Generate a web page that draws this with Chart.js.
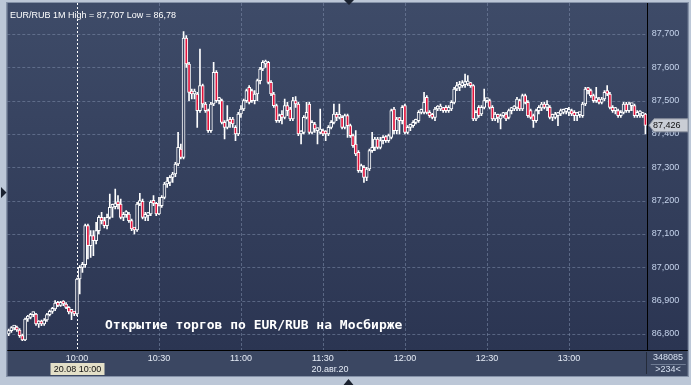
<!DOCTYPE html>
<html>
<head>
<meta charset="utf-8">
<script src="https://cdn.jsdelivr.net/npm/chart.js@4.4.1/dist/chart.umd.min.js"></script>
<style>
  html, body { margin: 0; padding: 0; background: #bcc7d7; }
  canvas { display: block; }
</style>
</head>
<body>
<canvas id="myChart" width="691" height="385"></canvas>
<script>
"use strict";

// EUR/RUB 1M, 20.08.2020, one candle per minute from 09:35
const startTime = '09:35';
const opens = [
  86.800, 86.810, 86.818, 86.820, 86.812, 86.795, 86.782, 86.845, 86.850, 86.858,
  86.860, 86.830, 86.835, 86.830, 86.842, 86.858, 86.868, 86.875, 86.893, 86.886,
  86.892, 86.890, 86.880, 86.866, 86.865, 86.860, 86.965, 87.000, 87.008, 87.125,
  87.065, 87.095, 87.080, 87.110, 87.150, 87.140, 87.125, 87.150, 87.180, 87.182,
  87.190, 87.190, 87.150, 87.158, 87.160, 87.140, 87.115, 87.112, 87.190, 87.198,
  87.150, 87.155, 87.160, 87.195, 87.192, 87.160, 87.185, 87.210, 87.250, 87.255,
  87.270, 87.280, 87.310, 87.355, 87.330, 87.688, 87.610, 87.525, 87.520, 87.520,
  87.470, 87.545, 87.490, 87.470, 87.410, 87.490, 87.585, 87.500, 87.500, 87.435,
  87.420, 87.440, 87.445, 87.420, 87.400, 87.460, 87.475, 87.500, 87.540, 87.530,
  87.500, 87.520, 87.560, 87.595, 87.610, 87.615, 87.555, 87.520, 87.485, 87.440,
  87.455, 87.450, 87.485, 87.475, 87.445, 87.500, 87.490, 87.400, 87.405, 87.450,
  87.490, 87.405, 87.430, 87.410, 87.405, 87.410, 87.405, 87.400, 87.420, 87.435,
  87.455, 87.450, 87.450, 87.420, 87.455, 87.425, 87.395, 87.370, 87.345, 87.290,
  87.300, 87.270, 87.295, 87.350, 87.360, 87.385, 87.360, 87.380, 87.392, 87.380,
  87.390, 87.475, 87.410, 87.445, 87.440, 87.485, 87.405, 87.420, 87.425, 87.435,
  87.440, 87.465, 87.465, 87.510, 87.465, 87.458, 87.450, 87.475, 87.475, 87.478,
  87.480, 87.470, 87.475, 87.495, 87.535, 87.540, 87.545, 87.548, 87.550, 87.550,
  87.545, 87.445, 87.480, 87.460, 87.480, 87.500, 87.500, 87.480, 87.445, 87.455,
  87.445, 87.455, 87.460, 87.450, 87.470, 87.475, 87.480, 87.500, 87.475, 87.515,
  87.495, 87.470, 87.455, 87.440, 87.470, 87.478, 87.490, 87.480, 87.480, 87.450,
  87.450, 87.455, 87.460, 87.465, 87.468, 87.465, 87.470, 87.465, 87.455, 87.458,
  87.455, 87.490, 87.535, 87.530, 87.515, 87.500, 87.505, 87.495, 87.505, 87.530,
  87.520, 87.480, 87.470, 87.470, 87.455, 87.465, 87.490, 87.470, 87.485, 87.485,
  87.455, 87.460, 87.455, 87.460
];
const highs = [
  86.815, 86.822, 86.826, 86.824, 86.816, 86.800, 86.848, 86.856, 86.862, 86.866,
  86.862, 86.840, 86.842, 86.846, 86.862, 86.872, 86.880, 86.900, 86.898, 86.898,
  86.900, 86.894, 86.882, 86.870, 86.868, 86.968, 87.005, 87.015, 87.130, 87.130,
  87.110, 87.110, 87.135, 87.155, 87.165, 87.150, 87.160, 87.220, 87.190, 87.235,
  87.215, 87.205, 87.165, 87.170, 87.165, 87.145, 87.120, 87.195, 87.222, 87.205,
  87.165, 87.165, 87.200, 87.215, 87.195, 87.210, 87.215, 87.255, 87.270, 87.275,
  87.285, 87.315, 87.405, 87.370, 87.707, 87.695, 87.615, 87.535, 87.535, 87.525,
  87.655, 87.550, 87.495, 87.475, 87.495, 87.615, 87.590, 87.510, 87.505, 87.440,
  87.485, 87.450, 87.450, 87.425, 87.465, 87.485, 87.505, 87.535, 87.545, 87.535,
  87.530, 87.565, 87.600, 87.620, 87.622, 87.618, 87.560, 87.525, 87.490, 87.460,
  87.470, 87.505, 87.495, 87.480, 87.510, 87.512, 87.495, 87.410, 87.455, 87.495,
  87.495, 87.440, 87.435, 87.418, 87.475, 87.415, 87.410, 87.425, 87.440, 87.490,
  87.465, 87.490, 87.455, 87.460, 87.460, 87.430, 87.400, 87.410, 87.350, 87.310,
  87.305, 87.300, 87.355, 87.405, 87.390, 87.390, 87.390, 87.395, 87.395, 87.400,
  87.475, 87.480, 87.450, 87.450, 87.485, 87.490, 87.425, 87.430, 87.440, 87.445,
  87.470, 87.475, 87.525, 87.515, 87.470, 87.462, 87.480, 87.485, 87.490, 87.480,
  87.485, 87.485, 87.500, 87.540, 87.555, 87.558, 87.560, 87.580, 87.575, 87.555,
  87.548, 87.470, 87.485, 87.485, 87.535, 87.505, 87.505, 87.485, 87.465, 87.460,
  87.460, 87.465, 87.465, 87.475, 87.480, 87.485, 87.510, 87.505, 87.520, 87.520,
  87.500, 87.475, 87.460, 87.475, 87.485, 87.495, 87.495, 87.500, 87.485, 87.460,
  87.465, 87.465, 87.475, 87.475, 87.475, 87.480, 87.475, 87.470, 87.465, 87.465,
  87.495, 87.540, 87.540, 87.535, 87.520, 87.540, 87.510, 87.510, 87.530, 87.545,
  87.525, 87.485, 87.480, 87.475, 87.470, 87.495, 87.495, 87.495, 87.490, 87.490,
  87.470, 87.470, 87.465, 87.462
];
const lows = [
  86.795, 86.805, 86.812, 86.808, 86.790, 86.780, 86.780, 86.838, 86.845, 86.852,
  86.826, 86.820, 86.825, 86.826, 86.838, 86.854, 86.862, 86.870, 86.882, 86.883,
  86.885, 86.876, 86.860, 86.843, 86.855, 86.855, 86.920, 86.985, 87.000, 87.025,
  87.030, 87.035, 87.070, 87.100, 87.130, 87.118, 87.115, 87.145, 87.150, 87.175,
  87.175, 87.145, 87.140, 87.150, 87.135, 87.110, 87.100, 87.108, 87.185, 87.145,
  87.140, 87.140, 87.155, 87.185, 87.155, 87.158, 87.180, 87.205, 87.240, 87.245,
  87.255, 87.272, 87.305, 87.325, 87.325, 87.600, 87.500, 87.505, 87.505, 87.420,
  87.465, 87.480, 87.465, 87.405, 87.405, 87.485, 87.495, 87.490, 87.430, 87.385,
  87.415, 87.420, 87.420, 87.380, 87.395, 87.450, 87.470, 87.495, 87.490, 87.495,
  87.490, 87.500, 87.550, 87.590, 87.600, 87.550, 87.515, 87.480, 87.435, 87.435,
  87.430, 87.445, 87.455, 87.440, 87.440, 87.480, 87.395, 87.370, 87.400, 87.445,
  87.400, 87.400, 87.405, 87.370, 87.400, 87.395, 87.380, 87.395, 87.415, 87.430,
  87.440, 87.445, 87.415, 87.415, 87.390, 87.390, 87.360, 87.335, 87.285, 87.285,
  87.255, 87.260, 87.290, 87.345, 87.350, 87.355, 87.355, 87.370, 87.375, 87.375,
  87.385, 87.400, 87.400, 87.400, 87.430, 87.400, 87.400, 87.410, 87.420, 87.430,
  87.435, 87.460, 87.460, 87.460, 87.450, 87.445, 87.440, 87.470, 87.470, 87.465,
  87.465, 87.465, 87.470, 87.490, 87.530, 87.530, 87.540, 87.540, 87.545, 87.540,
  87.440, 87.440, 87.450, 87.455, 87.475, 87.495, 87.475, 87.440, 87.440, 87.435,
  87.415, 87.450, 87.440, 87.445, 87.460, 87.470, 87.470, 87.470, 87.470, 87.490,
  87.450, 87.445, 87.420, 87.435, 87.460, 87.470, 87.475, 87.470, 87.445, 87.440,
  87.445, 87.425, 87.455, 87.460, 87.460, 87.455, 87.455, 87.440, 87.440, 87.450,
  87.450, 87.485, 87.520, 87.510, 87.495, 87.495, 87.490, 87.490, 87.500, 87.515,
  87.475, 87.465, 87.460, 87.450, 87.450, 87.460, 87.465, 87.465, 87.470, 87.450,
  87.450, 87.450, 87.450, 87.400
];
const closes = [
  86.810, 86.818, 86.820, 86.812, 86.795, 86.782, 86.845, 86.850, 86.858, 86.860,
  86.830, 86.835, 86.830, 86.842, 86.858, 86.868, 86.875, 86.893, 86.886, 86.892,
  86.890, 86.880, 86.866, 86.865, 86.860, 86.965, 87.000, 87.008, 87.125, 87.065,
  87.095, 87.080, 87.110, 87.150, 87.140, 87.125, 87.150, 87.180, 87.182, 87.190,
  87.188, 87.150, 87.158, 87.160, 87.140, 87.115, 87.112, 87.190, 87.200, 87.150,
  87.155, 87.160, 87.195, 87.192, 87.160, 87.185, 87.210, 87.250, 87.255, 87.270,
  87.280, 87.310, 87.360, 87.330, 87.688, 87.610, 87.525, 87.520, 87.525, 87.470,
  87.545, 87.490, 87.470, 87.410, 87.490, 87.585, 87.500, 87.505, 87.435, 87.420,
  87.440, 87.435, 87.430, 87.400, 87.460, 87.475, 87.500, 87.530, 87.495, 87.500,
  87.520, 87.560, 87.595, 87.615, 87.612, 87.555, 87.520, 87.485, 87.440, 87.455,
  87.450, 87.485, 87.470, 87.445, 87.500, 87.490, 87.400, 87.405, 87.450, 87.465,
  87.405, 87.435, 87.415, 87.412, 87.415, 87.400, 87.400, 87.420, 87.435, 87.460,
  87.450, 87.455, 87.420, 87.455, 87.425, 87.395, 87.365, 87.340, 87.290, 87.305,
  87.270, 87.295, 87.350, 87.360, 87.385, 87.360, 87.380, 87.390, 87.380, 87.395,
  87.470, 87.410, 87.445, 87.440, 87.480, 87.405, 87.420, 87.425, 87.435, 87.440,
  87.465, 87.468, 87.495, 87.465, 87.455, 87.450, 87.475, 87.478, 87.480, 87.470,
  87.470, 87.480, 87.495, 87.535, 87.545, 87.545, 87.550, 87.550, 87.552, 87.545,
  87.445, 87.465, 87.455, 87.480, 87.500, 87.501, 87.480, 87.445, 87.460, 87.450,
  87.455, 87.460, 87.445, 87.470, 87.478, 87.480, 87.505, 87.475, 87.515, 87.495,
  87.455, 87.450, 87.440, 87.470, 87.480, 87.490, 87.480, 87.482, 87.450, 87.455,
  87.460, 87.460, 87.470, 87.470, 87.470, 87.470, 87.460, 87.455, 87.460, 87.460,
  87.490, 87.535, 87.530, 87.515, 87.500, 87.505, 87.495, 87.505, 87.525, 87.520,
  87.480, 87.470, 87.475, 87.455, 87.465, 87.490, 87.470, 87.490, 87.485, 87.455,
  87.465, 87.465, 87.460, 87.426
];
const yTicks = [86.8, 86.9, 87.0, 87.1, 87.2, 87.3, 87.4, 87.5, 87.6, 87.7];
const cursorTime = '10:00';

// minute labels
const times = [];
let [hh, mm] = startTime.split(':').map(Number);
for (let i = 0; i < opens.length; i++) {
	times.push(String(hh).padStart(2, '0') + ':' + String(mm).padStart(2, '0'));
	mm++;
	if (mm === 60) { mm = 0; hh++; }
}

const RED = '#e2143c';
const FONT = 'Liberation Sans';

function panelFill(ctx, top, bottom) {
	const g = ctx.createLinearGradient(0, top, 0, bottom);
	g.addColorStop(0, '#3e4b68');
	g.addColorStop(1, '#2b3552');
	return g;
}

function fmt(v) { return v.toFixed(3).replace('.', ','); }

const backdrop = {
	id: 'backdrop',
	beforeDraw(chart) {
		const c = chart.ctx, a = chart.chartArea;
		const xs = chart.scales.x, ys = chart.scales.y;
		c.save();
		c.fillStyle = '#bcc7d7';
		c.fillRect(0, 0, chart.width, chart.height);
		// main + price panel
		c.fillStyle = panelFill(c, 3, a.bottom);
		c.fillRect(a.left, 3, ys.right - a.left, a.bottom - 3);
		// time strip
		c.fillStyle = '#3b4762';
		c.fillRect(a.left, a.bottom, ys.right - a.left, xs.bottom - a.bottom);
		// frame
		c.strokeStyle = '#8592a8';
		c.lineWidth = 1;
		c.strokeRect(Math.round(a.left) - 0.5, 2.5, Math.round(ys.right - a.left) + 1, xs.bottom - 2);
		c.strokeStyle = '#000';
		c.beginPath();
		c.moveTo(Math.round(a.right) + 0.5, 3);
		c.lineTo(Math.round(a.right) + 0.5, a.bottom);
		c.moveTo(a.left, Math.round(a.bottom) + 0.5);
		c.lineTo(ys.right, Math.round(a.bottom) + 0.5);
		c.stroke();
		c.strokeStyle = '#242b3a';
		c.beginPath();
		c.moveTo(Math.round(a.right) - 0.5, a.bottom + 2);
		c.lineTo(Math.round(a.right) - 0.5, xs.bottom - 2);
		c.stroke();
		c.strokeStyle = '#6f7c94';
		c.beginPath();
		c.moveTo(a.right + 4, 364.5);
		c.lineTo(ys.right - 2, 364.5);
		c.stroke();

		// dashed grid
		c.strokeStyle = 'rgba(125,140,170,0.55)';
		c.setLineDash([3, 2]);
		c.beginPath();
		yTicks.forEach(v => {
			const py = Math.round(ys.getPixelForValue(v)) + 0.5;
			c.moveTo(a.left, py);
			c.lineTo(a.right, py);
		});
		times.forEach((t, i) => {
			if (t === cursorTime || !(t.endsWith(':00') || t.endsWith(':30'))) return;
			const px = Math.round(xs.getPixelForValue(i)) + 0.5;
			c.moveTo(px, 3);
			c.lineTo(px, a.bottom);
		});
		c.stroke();

		// cursor line
		const ci = times.indexOf(cursorTime);
		const cx = Math.round(xs.getPixelForValue(ci)) + 0.5;
		c.strokeStyle = '#ffffff';
		c.setLineDash([2, 2]);
		c.beginPath();
		c.moveTo(cx, 3);
		c.lineTo(cx, a.bottom);
		c.stroke();
		c.setLineDash([]);

		c.fillStyle = '#ffffff';
		c.font = '9px "' + FONT + '"';
		c.textBaseline = 'alphabetic';
		c.textAlign = 'left';
		c.fillText('EUR/RUB 1M High = 87,707 Low = 86,78', 10, 18);
		c.restore();
	},
	afterDraw(chart) {
		const c = chart.ctx, a = chart.chartArea;
		const xs = chart.scales.x, ys = chart.scales.y;
		c.save();
		c.font = '9px "' + FONT + '"';
		c.textBaseline = 'middle';

		// date under the axis
		c.fillStyle = '#e6ecf6';
		c.textAlign = 'center';
		c.fillText('20.авг.20', 330, 369.5);

		// cursor time box
		const ci = times.indexOf(cursorTime);
		const cx = Math.round(xs.getPixelForValue(ci)) + 0.5;
		c.fillStyle = '#e4e0c8';
		c.fillRect(cx - 27, 363, 54, 12);
		c.fillStyle = '#111';
		c.fillText('20.08 ' + cursorTime, cx, 369.5);

		// last price tag
		const last = closes[closes.length - 1];
		const py = ys.getPixelForValue(last);
		const tx = Math.round(a.right) + 2;
		c.beginPath();
		c.moveTo(tx, py);
		c.lineTo(tx + 5, py - 6.5);
		c.lineTo(688, py - 6.5);
		c.lineTo(688, py + 6.5);
		c.lineTo(tx + 5, py + 6.5);
		c.closePath();
		c.fillStyle = '#c9cdd5';
		c.fill();
		c.strokeStyle = '#8c93a0';
		c.lineWidth = 1;
		c.stroke();
		c.fillStyle = '#111';
		c.textAlign = 'left';
		c.fillText(fmt(last), tx + 4, py + 0.5);

		// bottom right info
		c.fillStyle = '#d6e0f0';
		c.textAlign = 'center';
		c.fillText('348085', 668, 357.5);
		c.fillText('>234<', 668, 370);

		// annotation
		c.fillStyle = '#ffffff';
		c.textAlign = 'left';
		c.textBaseline = 'alphabetic';
		c.font = 'bold 13px "DejaVu Sans Mono"';
		c.fillText('Открытие торгов по EUR/RUB на Мосбирже', 105, 329);

		// scroll arrows
		c.fillStyle = '#1b2230';
		c.beginPath();
		c.moveTo(1, 187); c.lineTo(6.5, 192.5); c.lineTo(1, 198); c.closePath();
		c.moveTo(344, 0); c.lineTo(354, 0); c.lineTo(349, 5); c.closePath();
		c.moveTo(343.5, 385); c.lineTo(353.5, 385); c.lineTo(348.5, 379); c.closePath();
		c.fill();
		c.restore();
	}
};

const config = {
	type: 'bar',
	data: {
		labels: times,
		datasets: [
			{
				label: 'body',
				data: opens.map((o, i) => [o, closes[i]]),
				order: 0,
				barThickness: 3,
				minBarLength: 3,
				borderWidth: 1,
				borderSkipped: false,
				borderColor: '#ffffff',
				backgroundColor: (ctx) => {
					const i = ctx.dataIndex;
					if (i === undefined) return RED;
					if (closes[i] < opens[i]) return RED;
					return panelFill(ctx.chart.ctx, 3, ctx.chart.chartArea ? ctx.chart.chartArea.bottom : 350);
				}
			},
			{
				label: 'wick',
				data: lows.map((l, i) => [l, highs[i]]),
				order: 1,
				barThickness: 1,
				borderWidth: 0,
				backgroundColor: '#ffffff'
			}
		]
	},
	options: {
		responsive: false,
		animation: false,
		layout: { padding: { left: 7.3, right: 3.2, top: 4, bottom: 9 } },
		datasets: { bar: { grouped: false } },
		plugins: {
			legend: { display: false },
			tooltip: { enabled: false }
		},
		scales: {
			x: {
				type: 'category',
				offset: true,
				grid: { display: false, drawTicks: false },
				border: { display: false },
				ticks: {
					autoSkip: false,
					maxRotation: 0,
					minRotation: 0,
					padding: 3,
					color: '#e6ecf6',
					font: { family: FONT, size: 9 },
					callback: function (value, index) {
						const t = times[index];
						return (t.endsWith(':00') || t.endsWith(':30')) ? t : '';
					}
				},
				afterFit: function (s) {
					s.height = 26;
					s.paddingLeft = 0;
					s.paddingRight = 0;
				}
			},
			y: {
				position: 'right',
				min: 86.752,
				max: 87.79,
				grid: { display: false, drawTicks: false },
				border: { display: false },
				afterBuildTicks: function (s) {
					s.ticks = yTicks.map(v => ({ value: v }));
				},
				ticks: {
					padding: 5,
					color: '#c6d4ec',
					font: { family: FONT, size: 9 },
					callback: v => fmt(v)
				},
				afterFit: function (s) {
					s.width = 41;
					s.paddingTop = 0;
					s.paddingBottom = 0;
				}
			}
		}
	},
	plugins: [backdrop]
};

const myChart = new Chart(document.getElementById('myChart'), config);
</script>
</body>
</html>
